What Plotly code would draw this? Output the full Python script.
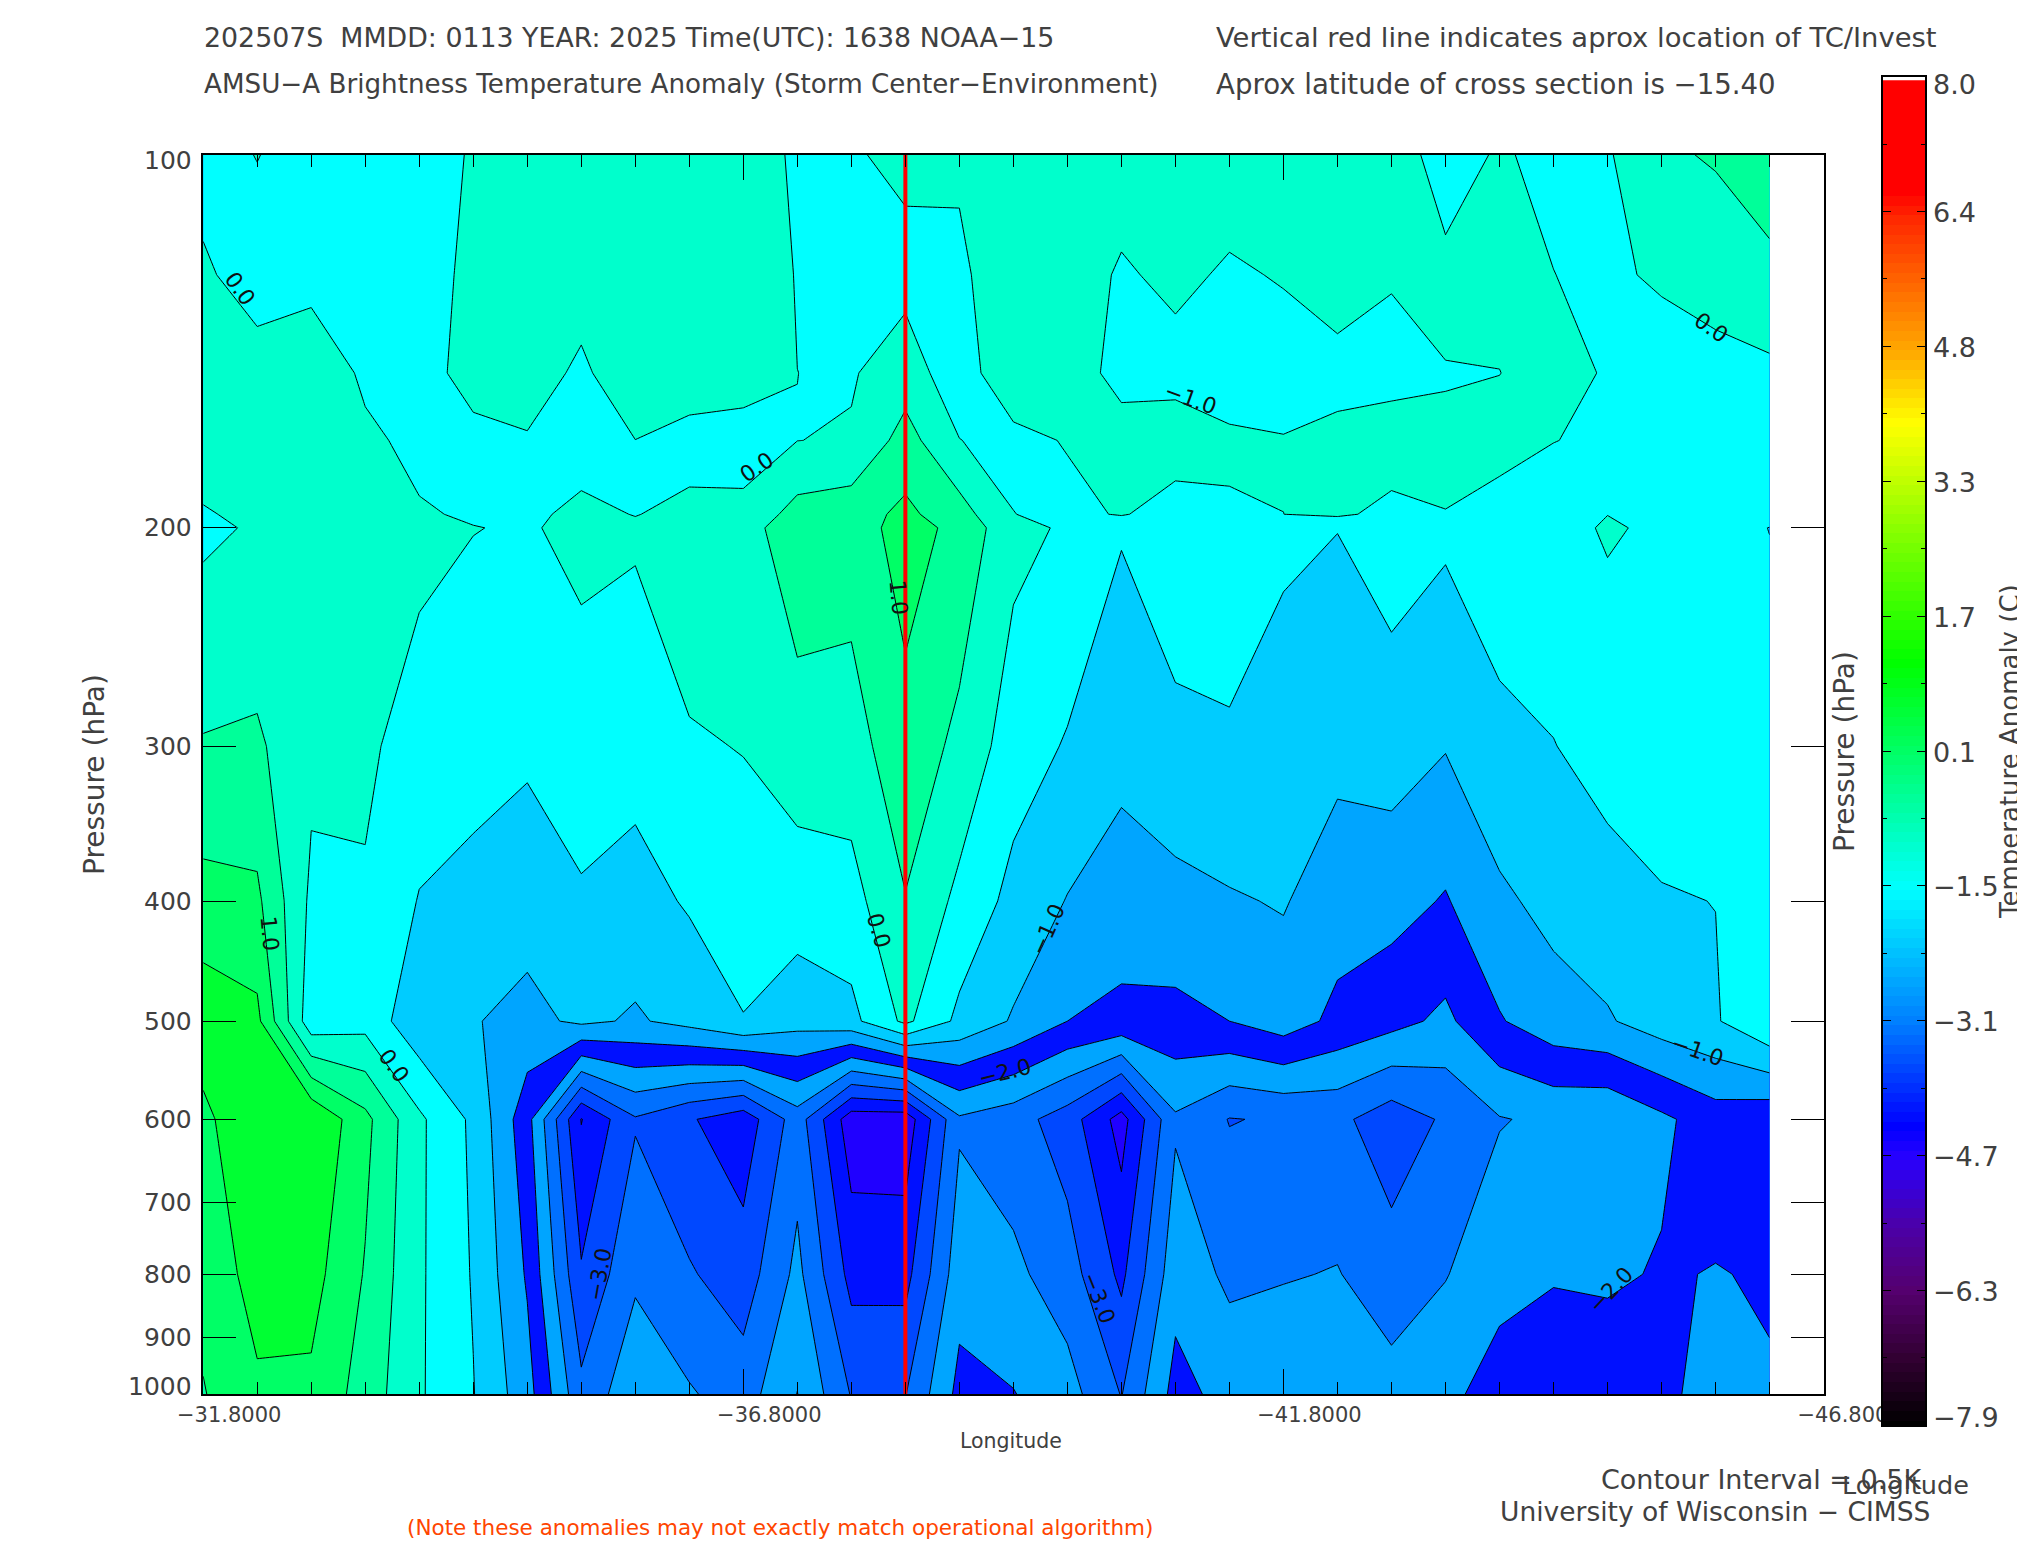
import numpy as np
import plotly.graph_objects as go

W, H = 2025, 1550
BODY = 8  # the page keeps its default body margin
FONT = "DejaVu Sans"
INK = "#404040"

# grid of the cross section
lons = [-31.8 - 0.5 * i for i in range(30)]
pressures = [100, 125, 150, 170, 195, 200, 300, 400, 500, 600, 800, 1000]

p100 = [-0.26, 0.02, -0.3, -0.3, -0.25, 0.05, 0.2, 0.3, 0.35, 0.35, 0.25, -0.075, -0.05, 0.12, 0.08,
        0.3, 0.3, 0.34, 0.3, 0.38, 0.3, 0.2, 0.235, -0.2, 0.05, -0.122, -0.05, 0.42, 0.55, 0.64]
p125 = [0.1, -0.3, -0.2, -0.3, -0.2, 0.11, 0.3, 0.3, 0.4, 0.4, 0.3, -0.023, -0.3, -0.16, -0.1,
        0.35, 0.35, -0.08, 0.15, -0.088, 0.05, 0.15, 0.06, 0.1, 0.24, 0.006, -0.12, 0.1, 0.19, 0.44]
p150 = [0.35, 0.27, 0.4, -0.1, -0.15, 0.14, 0.3, -0.12, 0.45, 0.3, 0.3, 0.001, -0.04, 0.25, -0.3,
        0.45, 0.4, -0.256, -0.225, -0.3, -0.3, -0.1, -0.25, -0.015, -0.01, 0.32, -0.08, -0.35, -0.15, -0.11]
p170 = [0.25, 0.25, 0.35, 0.1, -0.13, -0.1, -0.05, -0.2, -0.005, -0.18, -0.28, -0.005, 0.04, 0.7, 0.01,
        -0.17, 0.04, 0.326, 0.34, 0.095, 0.03, 0.075, 0.35, 0.04, 0.276, 0.012, -0.1, -0.3, -0.25, -0.25]
p195 = [-0.037, 0.1, 0.25, 0.2, 0.043, -0.05, -0.08, 0.094, -0.013, 0.105, 0.15, 0.68, 0.79, 1.11, 0.71,
        0.01, -0.16, 0.05, -0.28, -0.058, -0.001, 0.1, -0.165, -0.003, -0.29, -0.33, -0.005, -0.2, -0.3, -0.4]
p200 = [-0.1, 0.057, 0.34, 0.21, 0.126, 0.012, -0.044, 0.12, 0.065, 0.34, 0.288, 0.82, 0.74, 1.21, 0.86,
        0.14, -0.065, -0.46, -0.147, -0.123, -0.42, -0.49, -0.246, -0.404, -0.184, -0.17, 0.05, -0.08, -0.385, -0.505]
p300 = [0.537, 0.578, 0.12, 0.082, -0.199, -0.315, -0.413, -0.22, -0.31, -0.053, 0.019, 0.28, 0.28, 0.843, 0.367,
        -0.257, -0.543, -0.847, -0.645, -0.582, -0.693, -0.87, -0.777, -0.973, -0.636, -0.513, -0.317, -0.303, -0.44, -0.347]
p400 = [1.173, 1.099, -0.1, -0.047, -0.525, -0.643, -0.781, -0.56, -0.685, -0.447, -0.251, -0.26, -0.18, 0.477, -0.127,
        -0.653, -1.022, -1.233, -1.142, -1.041, -0.967, -1.25, -1.309, -1.541, -1.088, -0.857, -0.683, -0.527, -0.495, -0.188]
p500 = [1.81, 1.62, -0.32, -0.175, -0.85, -0.97, -1.15, -0.9, -1.06, -0.84, -0.52, -0.8, -0.64, 0.11, -0.62,
        -1.05, -1.5, -1.62, -1.64, -1.5, -1.24, -1.63, -1.84, -2.11, -1.54, -1.2, -1.05, -0.75, -0.55, -0.03]
p600 = [1.37, 1.96, 1.98, 1.14, 0.09, -0.6, -1.82, -4.02, -3.05, -3.45, -3.8, -2.75, -4.3, -4.32, -2.57,
        -2.79, -3.25, -4.2, -2.57, -3.02, -2.95, -2.88, -3.28, -2.93, -2.53, -2.4, -2.45, -2.1, -1.74, -1.87]
p800 = [1.17, 1.69, 1.69, 0.963, 0.075, -0.54, -1.56, -3.445, -2.59, -2.95, -3.27, -2.37, -3.665, -3.67, -2.21,
        -2.385, -2.775, -3.61, -2.195, -2.6, -2.535, -2.475, -2.79, -2.525, -2.16, -2.04, -2.075, -1.96, -2.02, -1.955]
p1000 = [0.97, 1.42, 1.4, 0.785, 0.06, -0.48, -1.3, -2.87, -2.13, -2.45, -2.74, -1.99, -3.03, -3.02, -1.85,
         -1.98, -2.3, -3.02, -1.82, -2.18, -2.12, -2.07, -2.3, -2.12, -1.79, -1.68, -1.7, -1.82, -2.3, -2.04]

storm_lon = -38.3

# fill colours of the contour bands, coldest first (the band -1.5 to -2 really is dark blue)
band_colors = ["#2000ff", "#0010ff", "#0048ff", "#0070ff", "#00a5ff", "#0010ff", "#00a5ff",
               "#00ccff", "#00ffff", "#00ffcc", "#00ff99", "#00ff66", "#00ff33"]

# colour bar
bar_ticks = [8.0, 6.4, 4.8, 3.3, 1.7, 0.1, -1.5, -3.1, -4.7, -6.3, -7.9]
bar_labels = ["8.0", "6.4", "4.8", "3.3", "1.7", "0.1", "\u22121.5", "\u22123.1", "\u22124.7", "\u22126.3", "\u22127.9"]
bar_stops = [(0.0, "#000000"), (0.05, "#320032"), (0.10, "#55006e"), (0.15, "#4b00aa"), (0.20, "#2800ff"),
             (0.223, "#0000ff"), (0.30, "#007dff"), (0.40, "#00ffff"), (0.50, "#00ff69"), (0.569, "#00ff00"),
             (0.65, "#6eff00"), (0.747, "#ffff00"), (0.80, "#ffaa00"), (0.90, "#ff2800"), (0.92, "#ff0000"),
             (1.0, "#ff0000")]

pressure_ticks = [100, 200, 300, 400, 500, 600, 700, 800, 900, 1000]
lon_ticks = [-31.8, -36.8, -41.8, -46.8]
lon_minor = [-31.8 - 0.5 * i for i in range(31)]

# label text, x px, y px, angle
line_labels = [
    ("0.0", 240, 288, 55),
    ("\u22121.0", 1190, 398, 20),
    ("0.0", 756, 467, -34),
    ("0.0", 1711, 327, 35),
    ("1.0", 270, 933, 85),
    ("1.0", 899, 597, 85),
    ("0.0", 879, 930, 74),
    ("\u22121.0", 1047, 930, -66),
    ("\u22121.0", 1697, 1050, 19),
    ("0.0", 394, 1065, 54),
    ("\u22123.0", 599, 1275, -80),
    ("\u22122.0", 1004, 1072, -14),
    ("\u22123.0", 1099, 1297, 68),
    ("\u22122.0", 1610, 1290, -47),
]


def fx(px):
    return (px - BODY) / W


def fy(py):
    return 1 - (py - BODY) / H


def put(text, x, y, size, angle=0, anchor="left", color=INK):
    # placed on a hidden page-sized axis, paper refs would push the margins
    return dict(text=text, x=x, y=y, xref="x3", yref="y3", showarrow=False, textangle=angle,
                xanchor=anchor, yanchor="middle", font=dict(family=FONT, size=size, color=color))


fig = go.Figure()

z = [p100, p125, p150, p170, p195, p200, p300, p400, p500, p600, p800, p1000]
scale = [[i / (len(band_colors) - 1), c] for i, c in enumerate(band_colors)]
fig.add_trace(go.Contour(
    x=lons, y=pressures, z=z, colorscale=scale, showscale=False, autocontour=False,
    contours=dict(start=-4, end=1.5, size=0.5, coloring="fill", showlines=True),
    line=dict(color="black", width=1, smoothing=0), hoverinfo="skip",
))
fig.add_trace(go.Scatter(x=[storm_lon, storm_lon], y=[100, 1000], mode="lines",
                         line=dict(color="#ff0000", width=4), hoverinfo="skip", showlegend=False))
# only there so the top and right tick axes get drawn
fig.add_trace(go.Scatter(x=[-31.8], y=[100], xaxis="x4", yaxis="y", mode="markers", marker=dict(opacity=0),
                         hoverinfo="skip", showlegend=False))
fig.add_trace(go.Scatter(x=[-31.8], y=[100], xaxis="x", yaxis="y4", mode="markers", marker=dict(opacity=0),
                         hoverinfo="skip", showlegend=False))

bar_z = np.linspace(0, 1, 140)
fig.add_trace(go.Heatmap(z=[[v] for v in bar_z], x=[0], y=-7.9 + 15.8 * bar_z, xaxis="x2", yaxis="y2",
                         colorscale=[[a, c] for a, c in bar_stops], zmin=0, zmax=1, showscale=False,
                         hoverinfo="skip"))
fig.add_trace(go.Scatter(x=[0], y=[0], xaxis="x3", yaxis="y3", mode="markers", marker=dict(opacity=0),
                         hoverinfo="skip", showlegend=False))

lon_dom = [fx(203.2), fx(1823.6)]
p_dom = [fy(1394.3), fy(154.7)]
fig.update_layout(
    width=W, height=H, margin=dict(l=0, r=0, t=0, b=0), autosize=False,
    paper_bgcolor="white", plot_bgcolor="rgba(0,0,0,0)", showlegend=False,
    xaxis=dict(domain=lon_dom, anchor="y", range=[-31.8, -46.8], showgrid=False, zeroline=False,
               automargin=False,
               tickmode="array", tickvals=lon_ticks, ticktext=["\u2212%.4f" % abs(v) for v in lon_ticks],
               ticks="inside", ticklen=25, tickcolor="black", tickwidth=1,
               showline=True, linecolor="black", linewidth=2, ticklabelshift=-26,
               tickfont=dict(family=FONT, size=21, color=INK),
               minor=dict(tickmode="array", tickvals=lon_minor, ticks="inside", ticklen=12, tickcolor="black",
                          tickwidth=1, showgrid=False)),
    xaxis4=dict(domain=lon_dom, anchor="y", overlaying="x", side="top", range=[-31.8, -46.8], showgrid=False,
                zeroline=False, automargin=False, showticklabels=False,
                tickmode="array", tickvals=lon_ticks, ticks="inside", ticklen=25, tickcolor="black", tickwidth=1,
                showline=True, linecolor="black", linewidth=2,
                minor=dict(tickmode="array", tickvals=lon_minor, ticks="inside", ticklen=12, tickcolor="black",
                           tickwidth=1, showgrid=False)),
    yaxis=dict(domain=p_dom, anchor="x", type="log", range=[3, 2], showgrid=False, zeroline=False,
               automargin=False, showticklabels=False,
               tickmode="array", tickvals=pressure_ticks,
               ticks="inside", ticklen=33, tickcolor="black", tickwidth=1,
               showline=True, linecolor="black", linewidth=2),
    yaxis4=dict(domain=p_dom, anchor="x", overlaying="y", side="right", type="log", range=[3, 2], showgrid=False,
                zeroline=False, automargin=False, showticklabels=False,
                tickmode="array", tickvals=pressure_ticks,
                ticks="inside", ticklen=33, tickcolor="black", tickwidth=1,
                showline=True, linecolor="black", linewidth=2),
    xaxis2=dict(domain=[fx(1883), fx(1925)], anchor="y2", range=[-0.5, 0.5], showticklabels=False, ticks="",
                automargin=False,
                showgrid=False, zeroline=False, mirror=True, showline=True, linecolor="black", linewidth=2),
    yaxis2=dict(domain=[fy(1425.4), fy(76.6)], anchor="x2", range=[-7.9, 8.0], showgrid=False, zeroline=False,
                automargin=False,
                tickmode="array", tickvals=[8.0 - 1.59 * i for i in range(11)], ticks="inside", ticklen=8,
                tickcolor="black", showticklabels=False, mirror="allticks", showline=True, linecolor="black",
                linewidth=2,
                minor=dict(tickmode="array", tickvals=[8.0 - 0.795 * i for i in range(21)], ticks="inside",
                           ticklen=4, tickcolor="black", showgrid=False)),
    xaxis3=dict(domain=[0, 1], anchor="y3", range=[BODY, W + BODY], visible=False, fixedrange=True, automargin=False),
    yaxis3=dict(domain=[0, 1], anchor="x3", range=[H + BODY, BODY], visible=False, fixedrange=True, automargin=False),
)

notes = [
    put("202507S  MMDD: 0113 YEAR: 2025 Time(UTC): 1638 NOAA\u221215", 202, 37.5, 26.8),
    put("AMSU\u2212A Brightness Temperature Anomaly (Storm Center\u2212Environment)", 202, 84, 26.2),
    put("Vertical red line indicates aprox location of TC/Invest", 1214, 37.5, 27.4),
    put("Aprox latitude of cross section is \u221215.40", 1214, 84, 27.6),
    put("Pressure (hPa)", 94, 775, 28, angle=-90, anchor="center"),
    put("Pressure (hPa)", 1844, 752, 28, angle=-90, anchor="center"),
    put("Temperature Anomaly (C)", 2010, 752, 26, angle=-90, anchor="center"),
    put("Longitude", 1011, 1441, 20.5, anchor="center"),
    put("Contour Interval = 0.5K", 1599, 1479, 27),
    put("Longitude", 1840, 1485, 25.5),
    put("University of Wisconsin \u2212 CIMSS", 1498, 1511, 26.5),
    put("(Note these anomalies may not exactly match operational algorithm)", 405, 1527, 21.5, color="#ff4500"),
]

# pressure labels sit a little inside at both ends of the axis
for p in pressure_ticks:
    shift = {100: 6, 1000: -8}.get(p, 0)
    y_px = 154.7 + 1239.6 * np.log10(p / 100) + shift
    notes.append(put(str(p), 194, y_px, 25, anchor="right"))

for value, label, i in zip(bar_ticks, bar_labels, range(11)):
    shift = {0: 8, 10: -8}.get(i, 1)
    notes.append(put(label, 1931, 76.6 + 134.88 * i + shift, 27))

for text, x, y, angle in line_labels:
    notes.append(put(text, x, y, 22, angle=angle, anchor="center", color="#111111"))

fig.update_layout(annotations=notes)

fig.write_html("out.html")
